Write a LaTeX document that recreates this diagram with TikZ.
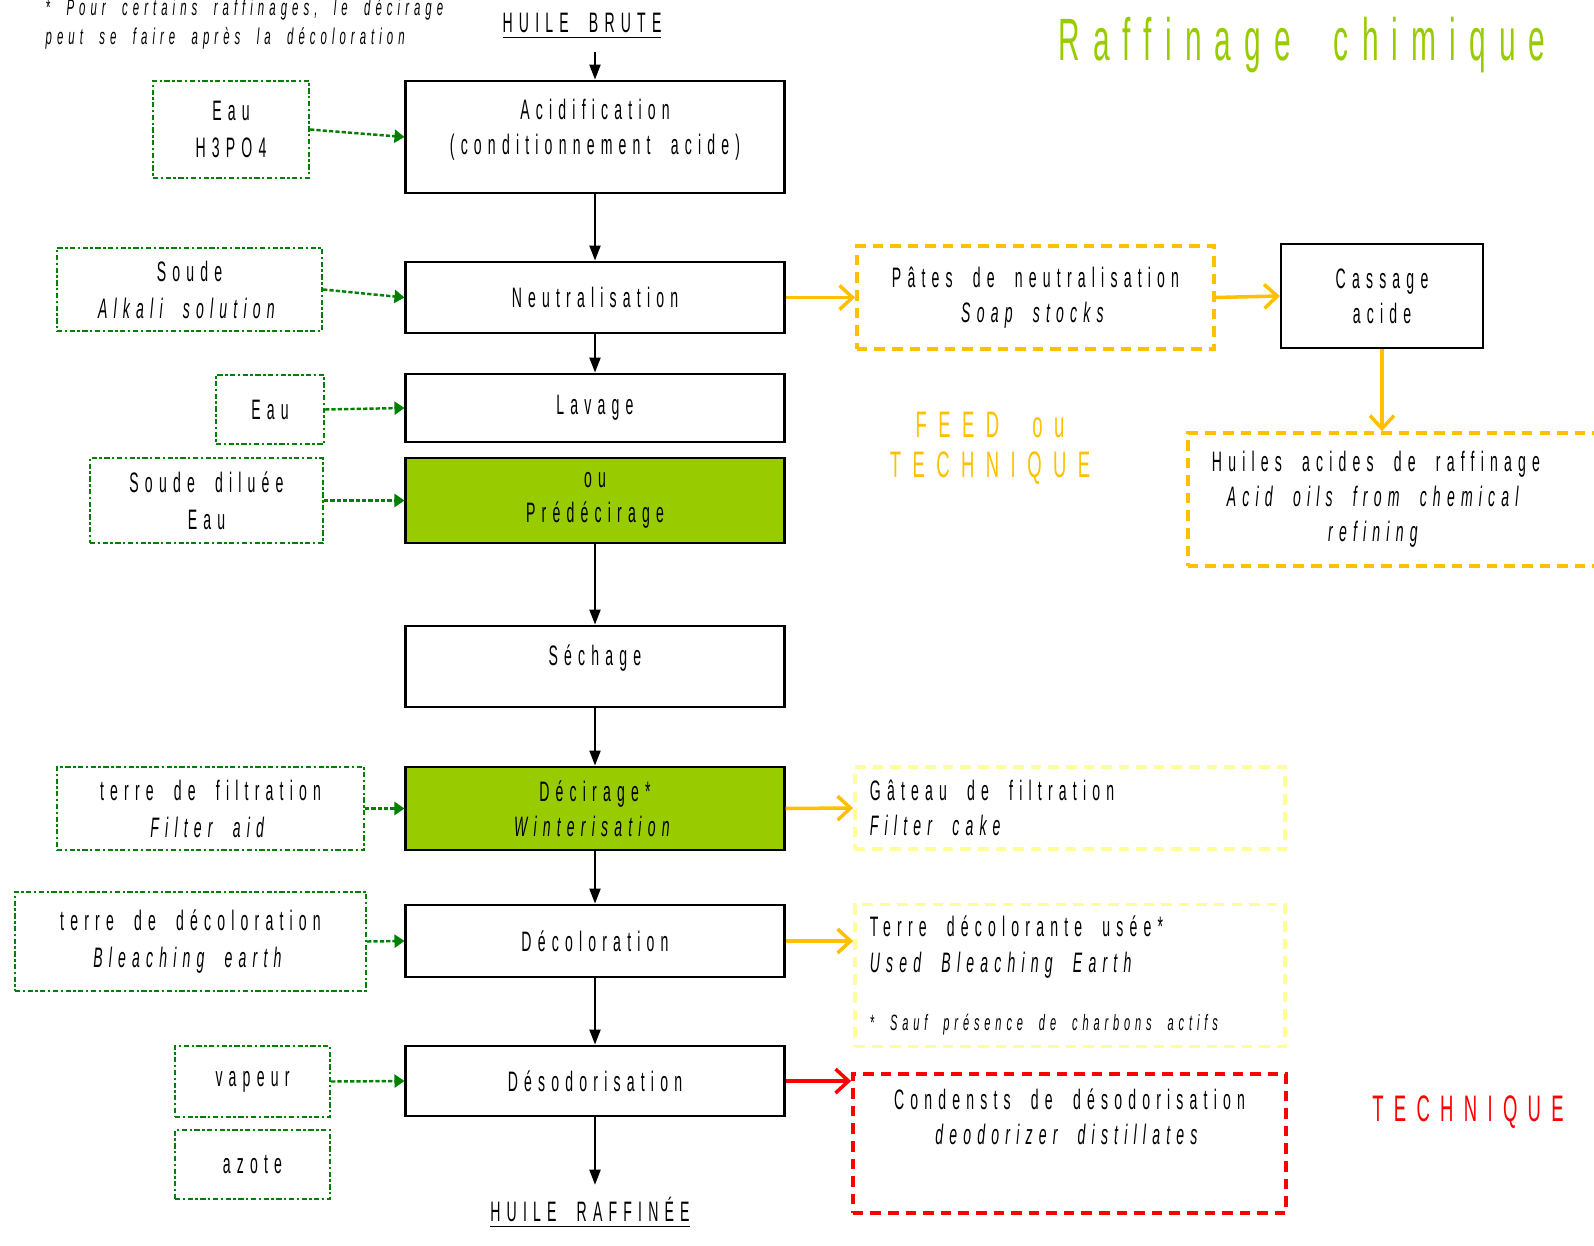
\documentclass[tikz,border=0pt]{standalone}
\usepackage{fontspec}
\setmainfont{Liberation Sans}[FakeStretch=0.5,LetterSpace=22,WordSpace=2]
\usetikzlibrary{arrows.meta}
\definecolor{vert}{RGB}{0,128,0}
\definecolor{vertclair}{HTML}{99CC00}
\definecolor{orangef}{HTML}{FFC000}
\definecolor{jaune}{HTML}{FFFF99}
\definecolor{rouge}{HTML}{FF0000}

\begin{document}
\begin{tikzpicture}[x=0.01cm,y=-0.01cm]
  \tikzset{ etape/.style={draw,line width=0.8pt,align=center,minimum width=3.78cm,font=\fontsize{8}{10}\selectfont},
    ajout/.style={draw=vert,line width=0.6pt,dash pattern=on 1.5pt off 0.7pt on 0.7pt off 0.7pt,align=center,font=\fontsize{8}{10.5}\selectfont},
    sortie/.style={line width=1pt,dash pattern=on 3pt off 2pt,align=center,font=\fontsize{8}{10}\selectfont},
    gauche/.style={text width=4.0cm,align=left,execute at begin node={\spaceskip=0pt\xspaceskip=0pt}},
    fl/.style={-{Triangle[length=0.15cm,width=0.11cm]},line width=0.6pt},
    flv/.style={-{Triangle[length=0.1cm,width=0.13cm]},vert,line width=0.7pt,dash pattern=on 1.2pt off 0.6pt},
    flo/.style={-{Straight Barb[length=0.13cm,width=0.24cm]},line width=1pt},
  }
  \useasboundingbox (0,0) rectangle (1594,1246);

  \node[font=\fontsize{6.5}{8}\selectfont\itshape,align=left,anchor=west,inner sep=0pt] (note) at (45,24) {* Pour certains raffinages, le décirage\\peut se faire après la décoloration};
  \node[font=\fontsize{17}{20}\selectfont,text=vertclair] (titre) at (1302,45) {Raffinage chimique};
  \node[font=\fontsize{8}{10}\selectfont] (brute) at (582,26) {\underline{HUILE BRUTE}};
  \node[font=\fontsize{8}{10}\selectfont] (raff) at (590,1213) {\underline{HUILE RAFFINÉE}};

  % les etapes du raffinage
  \node[etape,minimum height=1.12cm,text depth=0.21cm] (acid) at (595,137) {Acidification\\(conditionnement acide)};
  \node[etape,minimum height=0.71cm] (neut) at (595,297.5) {Neutralisation};
  \node[etape,minimum height=0.68cm] (lav) at (595,408) {Lavage};
  \node[etape,minimum height=0.85cm,fill=vertclair] (pred) at (595,500.5) {ou\\Prédécirage};
  \node[etape,minimum height=0.81cm,text depth=0.23cm] (sech) at (595,666.5) {Séchage};
  \node[etape,minimum height=0.83cm,fill=vertclair] (deci) at (595,808.5) {Décirage*\\\textit{Winterisation}};
  \node[etape,minimum height=0.72cm] (decol) at (595,941) {Décoloration};
  \node[etape,minimum height=0.70cm] (deso) at (595,1081) {Désodorisation};

  % les ajouts
  \node[ajout,minimum width=1.56cm,minimum height=0.97cm] (eau1) at (231,129.5) {Eau\\H3PO4};
  \node[ajout,minimum width=2.65cm,minimum height=0.83cm] (soude) at (189.5,289.5) {Soude\\\textit{Alkali solution}};
  \node[ajout,minimum width=1.08cm,minimum height=0.69cm] (eau2) at (270,409.5) {Eau};
  \node[ajout,minimum width=2.33cm,minimum height=0.85cm] (dilue) at (206.5,500.5) {Soude diluée\\Eau};
  \node[ajout,minimum width=3.07cm,minimum height=0.83cm] (filt) at (210.5,808.5) {terre de filtration\\\textit{Filter aid}};
  \node[ajout,minimum width=3.51cm,minimum height=0.99cm] (terre) at (190.5,941.5) {terre de décoloration\\\textit{Bleaching earth}};
  \node[ajout,minimum width=1.55cm,minimum height=0.71cm] (vap) at (252.5,1081.5) {vapeur};
  \node[ajout,minimum width=1.55cm,minimum height=0.69cm] (azote) at (252.5,1164.5) {azote};

  % les sorties
  \node[sortie,draw=orangef,minimum width=3.57cm,minimum height=1.03cm] (pates) at (1035.5,297.5) {Pâtes de neutralisation\\\textit{Soap stocks}};
  \node[draw,line width=0.6pt,align=center,minimum width=2.02cm,minimum height=1.04cm,font=\fontsize{8}{10}\selectfont] (cass) at (1382,296) {Cassage\\acide};
  \node[sortie,draw=orangef,minimum width=4.22cm,minimum height=1.33cm,
    label={[align=center,font=\fontsize{8}{10}\selectfont,xshift=-0.23cm]center:Huiles acides de raffinage\\\textit{Acid oils from chemical}\\\textit{refining}}] (huiles) at (1399,499.5) {};
  \node[align=center,text=orangef,font=\fontsize{10.5}{11.4}\selectfont\addfontfeature{LetterSpace=31}] (feed) at (990,448) {FEED ou\\TECHNIQUE};
  \node[sortie,gauche,draw=jaune,minimum width=4.30cm,minimum height=0.82cm] (gateau) at (1070,808) {Gâteau de filtration\\\textit{Filter cake}};
  \node[sortie,gauche,draw=jaune,minimum width=4.30cm,minimum height=1.39cm] (usee) at (1070,975.5) {Terre décolorante usée*\\\textit{Used Bleaching Earth}\\[0.23cm]{\fontsize{6.3}{8}\selectfont\textit{* Sauf présence de charbons actifs}}};
  \node[sortie,draw=rouge,minimum width=4.33cm,minimum height=1.39cm,text depth=0.53cm] (cond) at (1069.5,1143.5) {Condensts de désodorisation\\\textit{deodorizer distillates}};
  \node[text=rouge,font=\fontsize{10.5}{12}\selectfont\addfontfeature{LetterSpace=28}] (tech) at (1468,1112) {TECHNIQUE};

  % le fil principal
  \draw[fl] (brute.south -| acid.north) -- (acid.north);
  \draw[fl] (acid) -- (neut);
  \draw[fl] (neut) -- (lav);
  \draw[fl] (pred) -- (sech);
  \draw[fl] (sech) -- (deci);
  \draw[fl] (deci) -- (decol);
  \draw[fl] (decol) -- (deso);
  \draw[fl] (deso.south) -- (raff.north -| deso.south);

  \draw[flv] (eau1.east) -- (acid.west);
  \draw[flv] (soude.east) -- (neut.west);
  \draw[flv] (eau2.east) -- (lav.west);
  \draw[flv] (dilue.east) -- (pred.west);
  \draw[flv] (filt.east) -- (deci.west);
  \draw[flv] (terre.east) -- (decol.west);
  \draw[flv] (vap.east) -- (deso.west);

  \draw[flo,orangef] (neut.east) -- (pates.west);
  \draw[flo,orangef] (pates.east) -- (cass.west);
  \draw[flo,orangef] (cass.south) -- (cass.south |- huiles.north);
  \draw[flo,orangef] (deci.east) -- (gateau.west);
  \draw[flo,orangef] (decol.east) -- (decol.east -| usee.west);
  \draw[flo,rouge] (deso.east) -- (deso.east -| cond.west);
\end{tikzpicture}
\end{document}
